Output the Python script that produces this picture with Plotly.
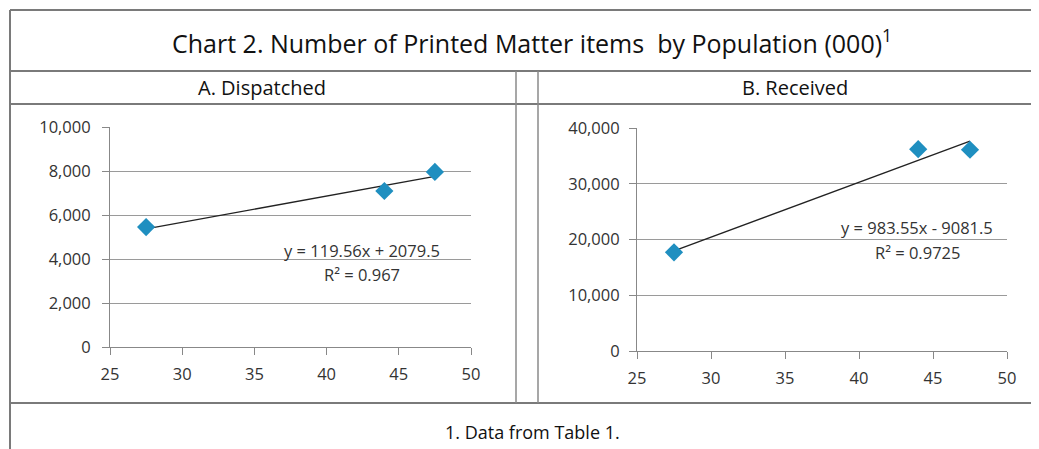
import plotly.graph_objects as go

W, H = 1039, 449
OFF = 8  # page body margin of the rendered html

# Data
population = [27.5, 44.0, 47.5]
dispatched = [5450, 7090, 7960]
received = [17700, 36200, 36100]

disp_slope, disp_intercept = 119.56, 2079.5
recv_slope, recv_intercept = 983.55, -9081.5
disp_eq = ["y = 119.56x + 2079.5", "R² = 0.967"]
recv_eq = ["y = 983.55x - 9081.5", "R² = 0.9725"]

x_ticks = [25, 30, 35, 40, 45, 50]
disp_ticks = [0, 2000, 4000, 6000, 8000, 10000]
recv_ticks = [0, 10000, 20000, 30000, 40000]

title_text = "Chart 2. Number of Printed Matter items  by Population (000)<sup>1</sup>"
panel_titles = ["A. Dispatched", "B. Received"]
footnote = "1. Data from Table 1."

FONT = "Open Sans"
MARKER = "#1f8fc0"


def px(x):
    return (x - OFF) / W


def py(y):
    return 1 - (y - OFF) / H


fig = go.Figure()

xs_line = [min(population), max(population)]

fig.add_trace(go.Scatter(x=xs_line, y=[disp_slope * v + disp_intercept for v in xs_line],
                         mode="lines", line=dict(color="#222222", width=1.3),
                         xaxis="x", yaxis="y", showlegend=False, hoverinfo="skip"))
fig.add_trace(go.Scatter(x=population, y=dispatched, mode="markers",
                         marker=dict(symbol="diamond", size=14, color=MARKER),
                         xaxis="x", yaxis="y", showlegend=False))
fig.add_trace(go.Scatter(x=xs_line, y=[recv_slope * v + recv_intercept for v in xs_line],
                         mode="lines", line=dict(color="#222222", width=1.3),
                         xaxis="x2", yaxis="y2", showlegend=False, hoverinfo="skip"))
fig.add_trace(go.Scatter(x=population, y=received, mode="markers",
                         marker=dict(symbol="diamond", size=14, color=MARKER),
                         xaxis="x2", yaxis="y2", showlegend=False))

tickfont = dict(family=FONT, size=16.5, color="#333333")
axis_common = dict(showline=True, linecolor="#888888", linewidth=1, ticks="outside",
                   ticklen=7, tickcolor="#888888", tickfont=tickfont, zeroline=False,
                   fixedrange=True, automargin=False)

fig.update_layout(
    width=W, height=H, autosize=False,
    margin=dict(l=0, r=0, t=0, b=0, pad=0),
    paper_bgcolor="white", plot_bgcolor="white",
    xaxis=dict(domain=[px(110), px(471)], range=[25, 50], tickvals=x_ticks,
               showgrid=False, anchor="y", ticklabelstandoff=5, **axis_common),
    yaxis=dict(domain=[py(347), py(127)], range=[0, 10000], tickvals=disp_ticks,
               tickformat=",d", showgrid=True, gridcolor="#9a9a9a", gridwidth=1,
               anchor="x", ticklabelstandoff=8, **axis_common),
    xaxis2=dict(domain=[px(637), px(1007)], range=[25, 50], tickvals=x_ticks,
                showgrid=False, anchor="y2", ticklabelstandoff=5, **axis_common),
    yaxis2=dict(domain=[py(351), py(128)], range=[0, 40000], tickvals=recv_ticks,
                tickformat=",d", showgrid=True, gridcolor="#9a9a9a", gridwidth=1,
                anchor="x2", ticklabelstandoff=6, **axis_common),
)

# Frame lines
lc = dict(color="#7a7a7a", width=2)
shapes = []
for y in [10, 71, 104, 403]:
    shapes.append(dict(type="line", xref="paper", yref="paper", x0=px(10), x1=1.0,
                       y0=py(y), y1=py(y), line=lc))
shapes.append(dict(type="line", xref="paper", yref="paper", x0=px(10), x1=px(10),
                   y0=py(10), y1=0, line=lc))
for x in [516, 538]:
    shapes.append(dict(type="line", xref="paper", yref="paper", x0=px(x), x1=px(x),
                       y0=py(71), y1=py(403), line=dict(color="#8a8a8a", width=1.5)))
fig.update_layout(shapes=shapes)

ann = []
ann.append(dict(text=title_text, x=px(532), y=py(41), xref="paper", yref="paper",
                showarrow=False, font=dict(family=FONT, size=25, color="#111111"),
                xanchor="center", yanchor="middle"))
ann.append(dict(text=panel_titles[0], x=px(262), y=py(88), xref="paper", yref="paper",
                showarrow=False, font=dict(family=FONT, size=20, color="#111111"),
                xanchor="center", yanchor="middle"))
ann.append(dict(text=panel_titles[1], x=px(795), y=py(88), xref="paper", yref="paper",
                showarrow=False, font=dict(family=FONT, size=20, color="#111111"),
                xanchor="center", yanchor="middle"))
ann.append(dict(text=footnote, x=px(532), y=py(432), xref="paper", yref="paper",
                showarrow=False, font=dict(family=FONT, size=18, color="#111111"),
                xanchor="center", yanchor="middle"))

eqfont = dict(family=FONT, size=16.5, color="#333333")
ann.append(dict(text=disp_eq[0], x=px(362), y=py(250), xref="paper", yref="paper",
                showarrow=False, font=eqfont, xanchor="center", yanchor="middle"))
ann.append(dict(text=disp_eq[1], x=px(362), y=py(274), xref="paper", yref="paper",
                showarrow=False, font=eqfont, xanchor="center", yanchor="middle"))
ann.append(dict(text=recv_eq[0], x=px(917), y=py(227), xref="paper", yref="paper",
                showarrow=False, font=eqfont, xanchor="center", yanchor="middle"))
ann.append(dict(text=recv_eq[1], x=px(917), y=py(252), xref="paper", yref="paper",
                showarrow=False, font=eqfont, xanchor="center", yanchor="middle"))
fig.update_layout(annotations=ann)

fig.write_html("out.html")
